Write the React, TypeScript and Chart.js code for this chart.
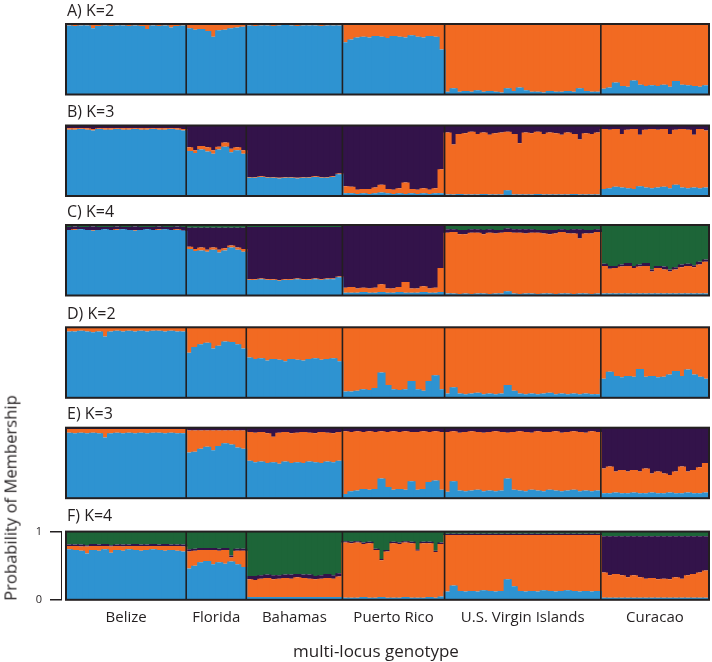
import React, { useEffect, useRef } from 'react';
import { Chart, registerables } from 'chart.js';

Chart.register(...registerables);

// ---------------- data ----------------
const POPULATIONS = ['Belize', 'Florida', 'Bahamas', 'Puerto Rico', 'U.S. Virgin Islands', 'Curacao'];
// individuals drawn per population (groups of genotypes)
const POP_SIZES = [20, 10, 16, 17, 26, 18];
const Y_TICKS = [0, 1];
const PANEL_TITLES = ['A) K=2', 'B) K=3', 'C) K=4', 'D) K=2', 'E) K=3', 'F) K=4'];
const Y_TITLE = 'Probability of Membership';
const X_TITLE = 'multi-locus genotype';

// membership (%) per individual; the top cluster of each panel is the remainder to 100
const A_BLUE = [
  98, 97, 98, 98, 94, 97, 98, 97, 98, 98, 97, 98, 97, 93, 98, 97, 98, 95, 97, 98,
  94, 92, 93, 90, 82, 91, 92, 94, 95, 96,
  98, 97, 98, 98, 97, 98, 99, 98, 97, 98, 98, 98, 97, 98, 98, 98,
  74, 78, 81, 82, 81, 83, 82, 80, 83, 82, 81, 84, 82, 81, 83, 82, 64,
  4, 9, 4, 5, 4, 6, 4, 5, 4, 3, 9, 5, 10, 6, 4, 4, 3, 5, 4, 4, 5, 4, 9, 5, 4, 4,
  8, 10, 17, 12, 11, 20, 14, 12, 13, 12, 14, 11, 19, 14, 13, 12, 11, 13,
];

const B_BLUE = [
  94, 94, 95, 94, 93, 95, 94, 94, 95, 94, 94, 95, 94, 94, 95, 94, 94, 95, 94, 93,
  64, 61, 66, 63, 60, 66, 70, 62, 65, 60,
  26, 26, 27, 26, 26, 25, 26, 26, 25, 26, 26, 27, 26, 26, 27, 31,
  4, 4, 3, 4, 3, 4, 5, 4, 3, 4, 3, 4, 3, 4, 3, 4, 4,
  2, 2, 3, 2, 2, 2, 3, 2, 2, 2, 8, 2, 2, 2, 2, 3, 2, 2, 2, 2, 2, 3, 2, 2, 2, 2,
  10, 11, 13, 12, 11, 10, 14, 12, 11, 12, 13, 11, 16, 12, 11, 12, 11, 12,
];
const B_ORANGE = [
  2, 2, 1, 2, 2, 1, 2, 2, 1, 2, 2, 1, 2, 2, 1, 2, 2, 1, 2, 2,
  5, 4, 5, 6, 5, 4, 6, 5, 4, 5,
  1, 1, 1, 1, 1, 1, 1, 1, 1, 1, 1, 1, 1, 1, 1, 1,
  10, 9, 6, 6, 7, 8, 11, 6, 6, 7, 16, 6, 6, 7, 6, 7, 34,
  88, 71, 85, 87, 89, 86, 87, 85, 87, 88, 83, 86, 73, 88, 87, 88, 86, 88, 87, 85, 88, 85, 78, 87, 86, 88,
  85, 83, 82, 76, 83, 85, 73, 82, 84, 82, 82, 77, 78, 83, 83, 75, 84, 81,
];

const C_BLUE = [
  93, 93, 94, 93, 92, 93, 94, 93, 93, 94, 93, 92, 93, 94, 93, 93, 94, 93, 93, 92,
  66, 63, 64, 62, 65, 61, 64, 68, 65, 62,
  22, 22, 23, 22, 22, 21, 22, 22, 23, 22, 22, 23, 22, 23, 23, 26,
  4, 4, 4, 5, 4, 4, 5, 4, 4, 5, 4, 4, 4, 5, 4, 4, 5,
  3, 3, 2, 3, 2, 3, 3, 2, 3, 3, 6, 3, 2, 3, 3, 2, 3, 3, 2, 3, 3, 2, 3, 3, 2, 3,
  3, 3, 3, 3, 3, 3, 3, 3, 3, 3, 3, 3, 3, 3, 3, 3, 3, 3,
];
const C_ORANGE = [
  0, 1, 0, 0, 1, 0, 0, 0, 1, 0, 0, 1, 0, 0, 0, 1, 0, 0, 1, 0,
  3, 3, 4, 3, 3, 4, 3, 3, 3, 4,
  1, 1, 1, 1, 1, 1, 1, 1, 1, 1, 1, 1, 1, 1, 1, 1,
  7, 8, 6, 6, 6, 7, 11, 6, 6, 7, 15, 6, 6, 8, 6, 7, 34,
  86, 87, 85, 84, 87, 86, 84, 87, 85, 86, 84, 86, 87, 85, 86, 87, 85, 84, 86, 87, 85, 86, 78, 85, 86, 87,
  39, 35, 36, 38, 39, 36, 38, 39, 31, 36, 34, 31, 34, 37, 39, 37, 41, 45,
];
const C_PURPLE = [
  4, 4, 3, 4, 5, 4, 3, 4, 4, 3, 4, 5, 4, 3, 4, 4, 3, 4, 4, 5,
  27, 30, 28, 31, 28, 31, 29, 25, 28, 30,
  74, 74, 73, 74, 74, 75, 74, 74, 73, 74, 74, 73, 74, 73, 73, 70,
  89, 88, 90, 89, 90, 89, 84, 90, 90, 88, 81, 90, 90, 87, 90, 89, 61,
  5, 4, 6, 6, 5, 5, 6, 5, 5, 4, 5, 5, 5, 6, 5, 4, 5, 6, 5, 4, 5, 6, 13, 5, 5, 4,
  3, 4, 3, 3, 4, 3, 3, 4, 3, 3, 4, 3, 3, 4, 3, 3, 4, 3,
];

const D_BLUE = [
  94, 94, 95, 94, 93, 94, 87, 94, 95, 94, 95, 94, 95, 94, 95, 95, 94, 95, 94, 94,
  64, 72, 76, 78, 70, 74, 80, 79, 76, 70,
  57, 55, 56, 53, 55, 54, 52, 55, 54, 53, 55, 56, 54, 55, 56, 52,
  9, 9, 10, 12, 11, 14, 36, 18, 12, 11, 12, 24, 12, 10, 24, 32, 12,
  6, 15, 6, 5, 6, 7, 5, 6, 5, 6, 18, 10, 6, 5, 6, 5, 6, 7, 5, 6, 5, 6, 5, 6, 5, 5,
  27, 37, 31, 29, 31, 30, 41, 30, 31, 29, 30, 33, 38, 31, 40, 33, 30, 27,
];

const E_BLUE = [
  93, 92, 93, 92, 93, 92, 86, 92, 93, 92, 93, 92, 93, 92, 93, 93, 92, 93, 92, 92,
  65, 66, 70, 73, 68, 74, 78, 76, 72, 70,
  53, 51, 52, 50, 51, 49, 52, 50, 51, 50, 52, 51, 50, 52, 51, 53,
  6, 10, 11, 13, 12, 13, 28, 16, 12, 13, 12, 24, 12, 13, 23, 25, 12,
  9, 24, 11, 10, 11, 12, 10, 11, 10, 11, 28, 12, 11, 10, 12, 11, 10, 12, 11, 10, 11, 12, 10, 11, 10, 11,
  7, 7, 8, 7, 7, 8, 7, 7, 8, 7, 7, 8, 7, 7, 8, 7, 7, 8,
];
const E_ORANGE = [
  5, 6, 5, 6, 5, 6, 12, 6, 5, 6, 5, 6, 5, 6, 5, 5, 6, 5, 6, 6,
  31, 30, 26, 23, 28, 22, 18, 20, 24, 26,
  41, 42, 42, 42, 36, 44, 42, 42, 42, 44, 41, 41, 44, 41, 41, 41,
  89, 84, 84, 81, 83, 81, 67, 78, 83, 81, 83, 70, 82, 82, 71, 70, 82,
  85, 71, 82, 84, 84, 82, 83, 83, 85, 83, 65, 82, 84, 84, 81, 84, 84, 82, 84, 83, 83, 83, 84, 82, 85, 83,
  35, 38, 30, 33, 31, 32, 31, 35, 27, 31, 28, 25, 31, 38, 30, 33, 37, 42,
];

const F_BLUE = [
  74, 73, 72, 68, 73, 72, 74, 69, 73, 72, 74, 73, 72, 73, 74, 73, 72, 73, 72, 71,
  46, 50, 55, 57, 52, 55, 53, 56, 52, 48,
  4, 4, 4, 4, 4, 4, 4, 4, 4, 4, 4, 4, 4, 4, 4, 4,
  3, 3, 3, 4, 3, 3, 4, 3, 3, 3, 4, 3, 3, 3, 4, 3, 5,
  12, 21, 13, 12, 13, 12, 14, 13, 12, 13, 30, 20, 13, 12, 13, 12, 14, 13, 12, 13, 14, 13, 12, 13, 12, 13,
  3, 3, 3, 3, 3, 3, 3, 3, 3, 3, 3, 3, 3, 3, 3, 3, 3, 3,
];
const F_ORANGE = [
  5, 6, 6, 10, 6, 7, 5, 9, 6, 6, 5, 6, 7, 6, 5, 6, 7, 6, 7, 7,
  25, 22, 18, 16, 21, 17, 20, 6, 20, 24,
  26, 25, 27, 28, 26, 27, 28, 27, 29, 28, 27, 26, 27, 28, 27, 30,
  81, 80, 81, 78, 80, 70, 54, 68, 80, 79, 80, 80, 69, 80, 79, 67, 77,
  83, 74, 82, 83, 82, 83, 81, 82, 83, 82, 65, 75, 82, 83, 82, 83, 81, 82, 83, 82, 81, 82, 83, 82, 83, 82,
  37, 33, 35, 33, 30, 33, 30, 28, 29, 27, 28, 27, 30, 28, 33, 35, 37, 40,
];
const F_PURPLE = [
  2, 2, 3, 2, 3, 2, 3, 2, 2, 3, 2, 3, 2, 2, 3, 2, 3, 2, 2, 3,
  3, 3, 3, 3, 3, 3, 3, 3, 3, 3,
  5, 6, 5, 5, 6, 5, 5, 6, 5, 5, 6, 5, 5, 6, 5, 5,
  2, 2, 2, 2, 2, 2, 2, 2, 2, 2, 2, 2, 2, 2, 2, 2, 2,
  2, 2, 2, 2, 2, 2, 2, 2, 2, 2, 2, 2, 2, 2, 2, 2, 2, 2, 2, 2, 2, 2, 2, 2, 2, 2,
  53, 57, 55, 57, 60, 57, 60, 62, 61, 63, 62, 63, 60, 62, 57, 55, 53, 50,
];

// ---------------- styles / layout ----------------
const BLUE = '#2e93d1';
const ORANGE = '#f26a22';
const PURPLE = '#33134a';
const GREEN = '#1d6538';
const INK = '#231f20';
const FONT = "'Open Sans', sans-serif";

const PAGE_W = 712;
const PAGE_H = 662;
const AXIS_X = 62;
const PLOT_LEFT = 66;
const PLOT_RIGHT = 709;
const PANEL_TOPS = [24, 125.5, 225, 327.3, 427.7, 529.3];
const PANEL_H = 70.5;

const PANELS = [
  { layers: [A_BLUE], colors: [BLUE, ORANGE], names: ['cluster 1', 'cluster 2'] },
  { layers: [B_BLUE, B_ORANGE], colors: [BLUE, ORANGE, PURPLE], names: ['cluster 1', 'cluster 2', 'cluster 3'] },
  { layers: [C_BLUE, C_ORANGE, C_PURPLE], colors: [BLUE, ORANGE, PURPLE, GREEN], names: ['cluster 1', 'cluster 2', 'cluster 3', 'cluster 4'] },
  { layers: [D_BLUE], colors: [BLUE, ORANGE], names: ['cluster 1', 'cluster 2'] },
  { layers: [E_BLUE, E_ORANGE], colors: [BLUE, ORANGE, PURPLE], names: ['cluster 1', 'cluster 2', 'cluster 3'] },
  { layers: [F_BLUE, F_ORANGE, F_PURPLE], colors: [BLUE, ORANGE, PURPLE, GREEN], names: ['cluster 1', 'cluster 2', 'cluster 3', 'cluster 4'] },
];

const N = POP_SIZES.reduce((a, b) => a + b, 0);
const BOUNDS: number[] = [];
const POP_MIDS: number[] = [];
{
  let acc = 0;
  POP_SIZES.forEach((s, i) => {
    POP_MIDS.push(acc + s / 2);
    acc += s;
    if (i < POP_SIZES.length - 1) BOUNDS.push(acc);
  });
}
const X_MIN = (-N * (PLOT_LEFT - AXIS_X)) / (PLOT_RIGHT - PLOT_LEFT);

Chart.defaults.font.family = FONT;
Chart.defaults.color = INK;

const framePlugin = {
  id: 'structureFrame',
  afterDatasetsDraw(chart: any) {
    const { ctx, chartArea, scales } = chart;
    const x = scales.x;
    const x0 = x.getPixelForValue(0);
    const x1 = x.getPixelForValue(N);
    ctx.save();
    // cover bar overhang outside the frame
    ctx.fillStyle = '#ffffff';
    ctx.fillRect(x0 - 4, chartArea.top - 2, 3, chartArea.bottom - chartArea.top + 4);
    ctx.strokeStyle = INK;
    ctx.lineWidth = 1.6;
    BOUNDS.forEach((b) => {
      const px = x.getPixelForValue(b);
      ctx.beginPath();
      ctx.moveTo(px, chartArea.top);
      ctx.lineTo(px, chartArea.bottom);
      ctx.stroke();
    });
    ctx.lineWidth = 2;
    ctx.strokeRect(x0, chartArea.top, x1 - x0, chartArea.bottom - chartArea.top);
    ctx.restore();
  },
};

function buildConfig(idx: number, padTop: number, canvasH: number): any {
  const panel = PANELS[idx];
  const isLast = idx === PANELS.length - 1;
  const topLayer = panel.layers[0].map((_, i) =>
    Math.max(0, 100 - panel.layers.reduce((s, l) => s + l[i], 0))
  );
  const all = [...panel.layers, topLayer];
  const datasets = all.map((vals, k) => ({
    label: panel.names[k],
    data: vals.map((v, i) => ({ x: i + 0.5, y: v / 100 })),
    backgroundColor: panel.colors[k],
    borderWidth: 0,
    borderSkipped: false,
    inflateAmount: 0,
    barPercentage: 1.35,
    categoryPercentage: 1,
    stack: 'membership',
  }));

  const scales: any = {
    x: {
      type: 'linear',
      display: false,
      min: X_MIN,
      max: N,
      offset: false,
      stacked: true,
      grid: { offset: false },
    },
    y: {
      type: 'linear',
      display: false,
      min: 0,
      max: 1,
      stacked: true,
    },
  };

  const plotBottomPad = canvasH - padTop - PANEL_H;

  if (isLast) {
    scales.y = {
      type: 'linear',
      display: true,
      position: 'left',
      min: 0,
      max: 1,
      stacked: true,
      afterFit: (s: any) => {
        s.width = AXIS_X;
      },
      afterBuildTicks: (s: any) => {
        s.ticks = Y_TICKS.map((v) => ({ value: v }));
      },
      ticks: {
        padding: 8,
        color: INK,
        font: { size: 11, family: FONT },
        callback: (v: any) => String(v),
      },
      grid: {
        drawOnChartArea: false,
        drawTicks: true,
        tickLength: 12,
        color: INK,
        lineWidth: 1.5,
      },
      border: { display: true, color: INK, width: 1.5 },
    };
    scales.xPop = {
      type: 'linear',
      position: 'bottom',
      min: X_MIN,
      max: N,
      offset: false,
      grid: { display: false, drawTicks: false },
      border: { display: false },
      afterBuildTicks: (s: any) => {
        s.ticks = POP_MIDS.map((v) => ({ value: v }));
      },
      afterFit: (s: any) => {
        s.height = plotBottomPad;
      },
      ticks: {
        autoSkip: false,
        maxRotation: 0,
        minRotation: 0,
        padding: 9,
        color: INK,
        font: { size: 15, family: FONT },
        callback: (_v: any, i: number) => POPULATIONS[i],
      },
    };
  }

  return {
    type: 'bar',
    data: { datasets },
    options: {
      responsive: false,
      animation: false,
      events: [],
      layout: {
        padding: {
          left: isLast ? 0 : AXIS_X,
          right: PAGE_W - PLOT_RIGHT,
          top: padTop,
          bottom: isLast ? 0 : plotBottomPad,
        },
      },
      plugins: {
        legend: { display: false },
        tooltip: { enabled: false },
        title: { display: false },
      },
      scales,
    },
    plugins: [framePlugin],
  };
}

function Panel({ idx }: { idx: number }) {
  const ref = useRef<HTMLCanvasElement>(null);
  const isLast = idx === PANELS.length - 1;
  const top = PANEL_TOPS[idx];
  const canvasTop = Math.floor(top) - (isLast ? 12 : 5);
  const padTop = top - canvasTop;
  const canvasH = isLast ? PAGE_H - canvasTop : 81;

  useEffect(() => {
    if (!ref.current) return;
    const chart = new Chart(ref.current, buildConfig(idx, padTop, canvasH));
    return () => chart.destroy();
  }, []);

  return (
    <canvas
      ref={ref}
      width={PAGE_W}
      height={canvasH}
      style={{ position: 'absolute', left: 0, top: canvasTop, width: PAGE_W, height: canvasH }}
    />
  );
}

const textStyle: React.CSSProperties = {
  position: 'absolute',
  fontFamily: FONT,
  fontSize: 15,
  lineHeight: '15px',
  color: INK,
  whiteSpace: 'nowrap',
};

export default function App() {
  return (
    <div
      style={{
        position: 'absolute',
        left: 0,
        top: 0,
        width: PAGE_W,
        height: PAGE_H,
        background: '#ffffff',
        overflow: 'hidden',
      }}
    >
      {PANELS.map((_, i) => (
        <Panel key={i} idx={i} />
      ))}
      {PANEL_TITLES.map((t, i) => (
        <div
          key={t + i}
          style={{ ...textStyle, fontSize: 16, lineHeight: '16px', left: 67, top: PANEL_TOPS[i] - 14 - 8.5 }}
        >
          {t}
        </div>
      ))}
      <div
        style={{
          ...textStyle,
          fontSize: 16.6,
          lineHeight: '17px',
          left: 10,
          top: 497.5,
          transform: 'translate(-50%, -50%) rotate(-90deg)',
        }}
      >
        {Y_TITLE}
      </div>
      <div
        style={{
          ...textStyle,
          fontSize: 17,
          lineHeight: '17px',
          left: 376,
          top: 650,
          transform: 'translate(-50%, -50%)',
        }}
      >
        {X_TITLE}
      </div>
    </div>
  );
}
